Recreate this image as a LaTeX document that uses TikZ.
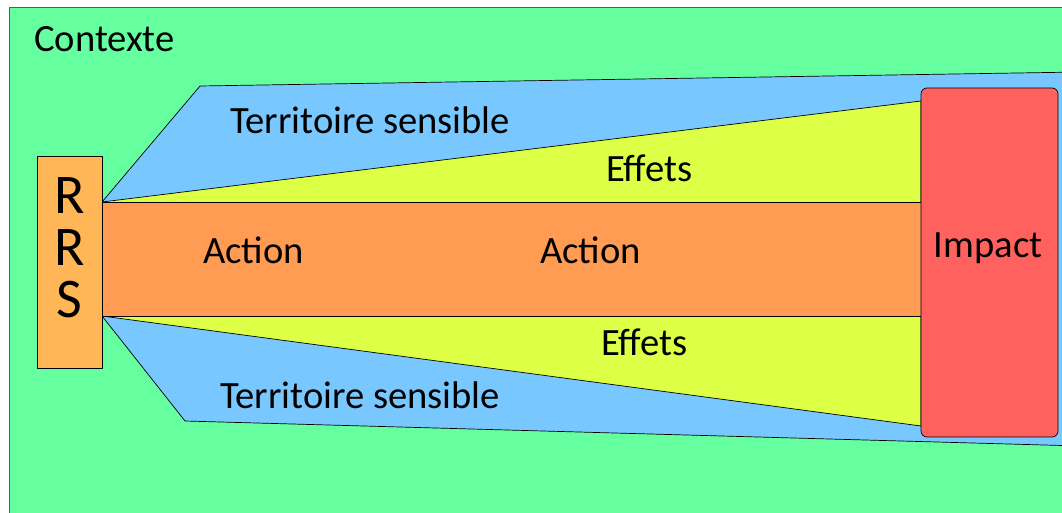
\documentclass[tikz,border=0pt]{standalone}
\usepackage{fontspec}
\setmainfont{Carlito}

\definecolor{ctxgreen}{RGB}{102,255,160}
\definecolor{terrblue}{RGB}{120,200,255}
\definecolor{effyellow}{RGB}{221,255,70}
\definecolor{actorange}{RGB}{255,155,82}
\definecolor{rrsorange}{RGB}{255,182,86}
\definecolor{impred}{RGB}{255,98,94}

\tikzset{
  lbl/.style={font=\fontsize{38.6}{44}\selectfont, inner sep=0pt, anchor=base west},
  zone/.style={draw=black, line width=0.7pt, line join=round}
}

\begin{document}
\begin{tikzpicture}[x=1pt, y=-1pt]
  \useasboundingbox (0,0) rectangle (1062,513);
  \fill[white] (0,0) rectangle (1062,513);

  % contexte
  \draw[gray!70!black, line width=0.7pt, fill=ctxgreen] (9,7) rectangle (1080,530);

  \coordinate (rn) at (102,202);
  \coordinate (rs) at (102,316);
  \coordinate (in) at (921,101);
  \coordinate (is) at (921,426);

  % territoire sensible
  \draw[zone, fill=terrblue] (rn) -- (200,86) -- (1080,72) -- (1080,446)
    -- (185,421) -- (rs) -- cycle;

  % effets
  \draw[zone, fill=effyellow] (rn) -- (in) -- (is) -- (rs) -- cycle;

  % action
  \draw[zone, fill=actorange] (rn) rectangle (is |- rs);

  % rrs et impact
  \draw[zone, fill=rrsorange] (37,156) rectangle (102,368);
  \draw[zone, fill=impred, rounded corners=6pt] (921,88) rectangle (1058,437);

  \node[lbl] (ctx) at (34,52) {Contexte};
  \node[lbl] (terrhaut) at (230,134) {Territoire sensible};
  \node[lbl] (effhaut) at (606,182) {Effets};
  \node[lbl] (actgauche) at (203,263) {Action};
  \node[lbl] (actdroite) at (540,263) {Action};
  \node[lbl] (effbas) at (601,355) {Effets};
  \node[lbl] (terrbas) at (220,408) {Territoire sensible};
  \node[lbl, anchor=base] (impact) at (988,257) {Impact};

  \node[font=\fontsize{56}{52}\selectfont, align=center, inner sep=0pt]
    (rrs) at (69.5,248) {R\\R\\S};
\end{tikzpicture}
\end{document}
